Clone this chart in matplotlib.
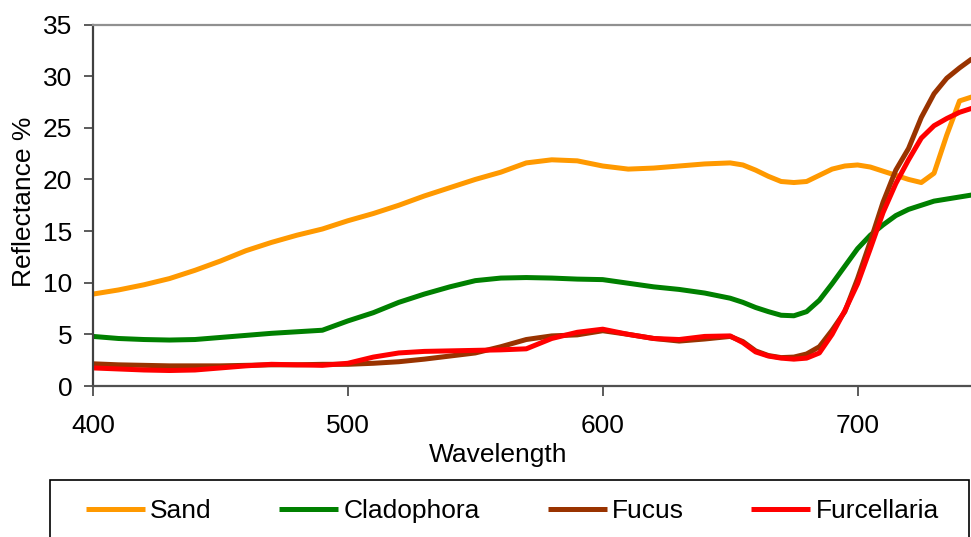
import matplotlib
matplotlib.use("Agg")
import matplotlib.pyplot as plt
from matplotlib.patches import Rectangle

plt.rcParams['font.family'] = ['Liberation Sans', 'DejaVu Sans']

# Wavelength grid (nm)
wavelength = [400, 410, 420, 430, 440, 450, 460, 470, 480, 490,
              500, 510, 520, 530, 540, 550, 560, 570, 580, 590,
              600, 610, 620, 630, 640, 650, 655, 660, 665, 670,
              675, 680, 685, 690, 695, 700, 705, 710, 715, 720,
              725, 730, 735, 740, 745]

# Reflectance (%) per bottom type
sand = [8.9, 9.3, 9.8, 10.4, 11.2, 12.1, 13.1, 13.9, 14.6, 15.2,
        16.0, 16.7, 17.5, 18.4, 19.2, 20.0, 20.7, 21.6, 21.9, 21.8,
        21.3, 21.0, 21.1, 21.3, 21.5, 21.6, 21.4, 20.9, 20.3, 19.8,
        19.7, 19.8, 20.4, 21.0, 21.3, 21.4, 21.2, 20.8, 20.4, 20.0,
        19.7, 20.6, 24.3, 27.6, 28.0]
cladophora = [4.8, 4.6, 4.5, 4.45, 4.5, 4.7, 4.9, 5.1, 5.25, 5.4,
              6.3, 7.1, 8.1, 8.9, 9.6, 10.2, 10.45, 10.5, 10.45, 10.35,
              10.3, 9.95, 9.6, 9.35, 9.0, 8.5, 8.1, 7.6, 7.2, 6.85,
              6.8, 7.2, 8.3, 9.9, 11.6, 13.3, 14.6, 15.6, 16.5, 17.1,
              17.5, 17.9, 18.1, 18.3, 18.5]
fucus = [2.15, 2.05, 2.0, 1.95, 1.95, 1.95, 2.0, 2.05, 2.05, 2.1,
         2.1, 2.2, 2.35, 2.6, 2.9, 3.2, 3.8, 4.5, 4.85, 4.95,
         5.35, 5.0, 4.6, 4.35, 4.55, 4.8, 4.3, 3.4, 2.95, 2.75,
         2.8, 3.1, 3.8, 5.4, 7.2, 10.4, 14.0, 17.8, 20.9, 23.0,
         26.0, 28.3, 29.8, 30.8, 31.7]
furcellaria = [1.75, 1.65, 1.55, 1.5, 1.55, 1.75, 1.95, 2.1, 2.05, 2.0,
               2.2, 2.8, 3.2, 3.35, 3.4, 3.45, 3.5, 3.6, 4.6, 5.2,
               5.5, 5.0, 4.6, 4.5, 4.8, 4.85, 4.2, 3.3, 2.9, 2.7,
               2.6, 2.7, 3.2, 5.0, 7.3, 9.9, 13.3, 16.8, 19.6, 21.9,
               24.0, 25.2, 25.9, 26.5, 26.9]

series = [("Sand", sand, "#FF9900"),
          ("Cladophora", cladophora, "#008000"),
          ("Fucus", fucus, "#993300"),
          ("Furcellaria", furcellaria, "#FF0000")]

FS = 19
W, H = 971, 537
fig = plt.figure(figsize=(W / 100, H / 100), dpi=100)
ax = fig.add_axes([93 / W, 1 - 386 / H, (W - 93) / W, (386 - 24.5) / H])

for name, vals, col in series:
    ax.plot(wavelength, vals, color=col, lw=3.6, label=name,
            solid_joinstyle='round', solid_capstyle='butt')

ax.set_xlim(400, 744.5)
ax.set_ylim(0, 35)
ax.set_xticks([400, 500, 600, 700])
ax.set_yticks(range(0, 36, 5))

ax.spines['right'].set_visible(False)
ax.spines['left'].set_color('#404040')
ax.spines['left'].set_linewidth(1.6)
ax.spines['bottom'].set_color('#505050')
ax.spines['bottom'].set_linewidth(1.6)
ax.spines['top'].set_color('#909090')
ax.spines['top'].set_linewidth(1.6)

ax.tick_params(axis='y', direction='out', length=6.5, width=1.2,
               color='#404040', pad=8.5, labelsize=FS)
ax.tick_params(axis='x', direction='out', length=7, width=1.2,
               color='#404040', pad=13.5, labelsize=FS)

ax.set_xlabel('Wavelength', fontsize=FS, va='baseline')
ax.xaxis.set_label_coords(498 / W, 1 - 461.7 / H, transform=fig.transFigure)
ax.set_ylabel('Reflectance %', fontsize=FS, va='baseline', ha='center')
ax.yaxis.set_label_coords(31 / W, 1 - 202 / H, transform=fig.transFigure)

# Legend frame running off the bottom of the figure
fig.patches.append(Rectangle((50 / W, -0.05), (969 - 50) / W,
                             (537 - 479.5) / H + 0.05,
                             transform=fig.transFigure, fill=False,
                             edgecolor='black', lw=1.2))
fig.legend(loc='center left', bbox_to_anchor=(86 / W, 1 - 511 / H),
           ncol=4, frameon=False, fontsize=FS, handlelength=2.36 * 18 / FS,
           handletextpad=0.2, columnspacing=2.7 * 18 / FS, borderpad=0,
           borderaxespad=0)

fig.savefig('out.png', dpi=100)
